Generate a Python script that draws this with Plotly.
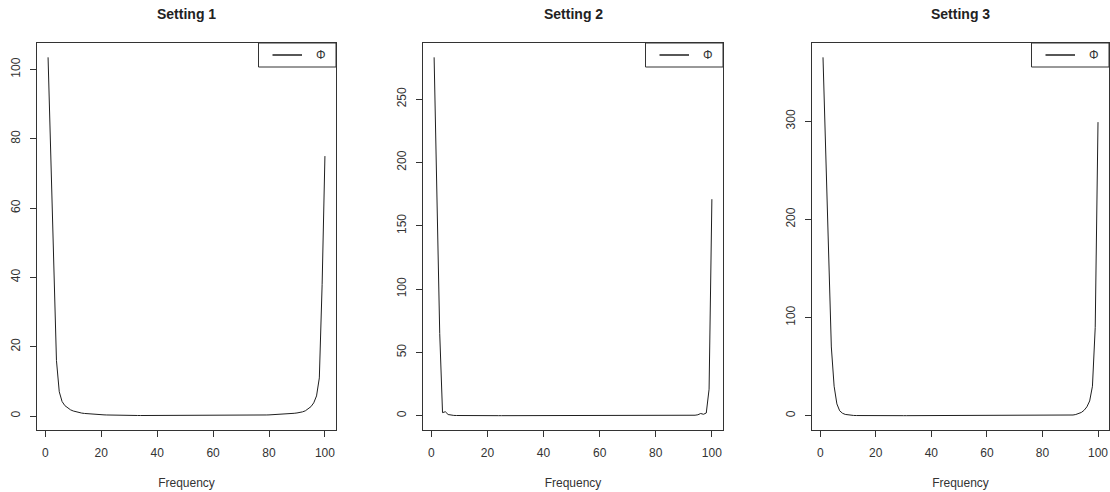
import plotly.graph_objects as go

freq = list(range(1, 101))

phi_setting1 = [
    103.5, 75, 44, 16, 7, 4.2, 3.0, 2.3, 1.8, 1.45,
    1.2, 1.0, 0.85, 0.74, 0.65, 0.57, 0.5, 0.45, 0.4, 0.36,
    0.33, 0.3, 0.27, 0.25, 0.23, 0.21, 0.2, 0.19, 0.18, 0.17,
    0.16, 0.15, 0.15, 0.14, 0.14, 0.13, 0.13, 0.12, 0.12, 0.12,
    0.11, 0.11, 0.11, 0.11, 0.1, 0.1, 0.1, 0.1, 0.1, 0.1,
    0.1, 0.1, 0.1, 0.1, 0.1, 0.1, 0.11, 0.11, 0.11, 0.11,
    0.12, 0.12, 0.12, 0.13, 0.13, 0.14, 0.14, 0.15, 0.16, 0.17,
    0.18, 0.19, 0.2, 0.21, 0.23, 0.24, 0.26, 0.28, 0.3, 0.32,
    0.35, 0.38, 0.41, 0.45, 0.5, 0.55, 0.62, 0.7, 0.78, 0.88,
    1.0, 1.2, 1.5, 2.0, 2.7, 3.8, 5.8, 11, 38, 75,
]

phi_setting2 = [
    283, 171, 65, 2.5, 3.2, 1.0, 0.45, 0.3, 0.22, 0.18,
    0.15, 0.13, 0.12, 0.11, 0.1, 0.1, 0.1, 0.1, 0.1, 0.1,
    0.1, 0.1, 0.1, 0.1, 0.1, 0.1, 0.1, 0.1, 0.1, 0.1,
    0.1, 0.1, 0.1, 0.1, 0.1, 0.1, 0.1, 0.1, 0.1, 0.1,
    0.1, 0.1, 0.1, 0.1, 0.1, 0.1, 0.1, 0.1, 0.1, 0.1,
    0.1, 0.1, 0.1, 0.1, 0.1, 0.1, 0.1, 0.1, 0.1, 0.1,
    0.1, 0.1, 0.1, 0.1, 0.1, 0.1, 0.1, 0.1, 0.1, 0.1,
    0.1, 0.1, 0.1, 0.1, 0.1, 0.1, 0.1, 0.1, 0.1, 0.1,
    0.1, 0.1, 0.1, 0.1, 0.1, 0.11, 0.12, 0.13, 0.15, 0.17,
    0.2, 0.25, 0.32, 0.45, 0.8, 1.8, 1.2, 2.2, 21, 171,
]

phi_setting3 = [
    365, 272, 170, 70, 30, 12, 5.0, 2.5, 1.3, 0.7,
    0.4, 0.25, 0.15, 0.1, 0.08, 0.06, 0.05, 0.04, 0.03, 0.03,
    0.02, 0.02, 0.02, 0.02, 0.02, 0.02, 0.02, 0.02, 0.02, 0.02,
    0.02, 0.02, 0.02, 0.02, 0.02, 0.02, 0.02, 0.02, 0.02, 0.02,
    0.02, 0.02, 0.02, 0.02, 0.02, 0.02, 0.02, 0.02, 0.02, 0.02,
    0.02, 0.02, 0.02, 0.02, 0.02, 0.02, 0.02, 0.02, 0.02, 0.02,
    0.02, 0.02, 0.02, 0.02, 0.02, 0.02, 0.02, 0.02, 0.02, 0.02,
    0.02, 0.02, 0.02, 0.02, 0.02, 0.02, 0.02, 0.02, 0.03, 0.03,
    0.04, 0.04, 0.05, 0.06, 0.07, 0.09, 0.12, 0.16, 0.24, 0.4,
    0.7, 1.2, 2.0, 3.3, 5.5, 9.0, 15, 30, 90, 299,
]

titles = ["Setting 1", "Setting 2", "Setting 3"]
series = [phi_setting1, phi_setting2, phi_setting3]
x_ticks = [0, 20, 40, 60, 80, 100]
y_ticks = [
    [0, 20, 40, 60, 80, 100],
    [0, 50, 100, 150, 200, 250],
    [0, 100, 200, 300],
]
legend_label = "\u03A6"

W, H = 1110, 492
ML, MR, MT, MB = 37, 1, 43, 62
PW = W - ML - MR
PH = H - MT - MB
# box pixel extents (left, right)
boxes = [(37, 336), (423, 723), (812, 1109)]
domains = [[(l - ML) / PW, (r - ML) / PW] for l, r in boxes]

FONT = "Liberation Sans, Arial, Helvetica, sans-serif"
AX = "#333333"
TXT = "#333333"

fig = go.Figure()

for i, (vals, title) in enumerate(zip(series, titles)):
    n = i + 1
    xa = "x" if n == 1 else f"x{n}"
    ya = "y" if n == 1 else f"y{n}"
    fig.add_trace(go.Scatter(
        x=freq, y=vals, mode="lines", name=legend_label,
        line=dict(color="#1f1f1f", width=1),
        xaxis=xa, yaxis=ya, showlegend=False,
    ))
    xmin, xmax = min(freq), max(freq)
    xs = (xmax - xmin) * 0.04
    ymin, ymax = min(vals), max(vals)
    ys = (ymax - ymin) * 0.04
    xkey = "xaxis" if n == 1 else f"xaxis{n}"
    ykey = "yaxis" if n == 1 else f"yaxis{n}"
    common = dict(
        showline=True, mirror=True, linecolor=AX, linewidth=1,
        ticks="outside", ticklen=6, tickwidth=1, tickcolor=AX,
        showgrid=False, zeroline=False,
        tickfont=dict(family=FONT, size=12, color=TXT),
    )
    fig.update_layout({
        xkey: dict(
            domain=domains[i], anchor=ya, range=[xmin - xs, xmax + xs],
            tickmode="array", tickvals=x_ticks, ticktext=[str(t) for t in x_ticks],
            ticklabelstandoff=6,
            title=dict(text="Frequency", font=dict(family=FONT, size=12, color=TXT),
                       standoff=19),
            **common,
        ),
        ykey: dict(
            domain=[0, 1], anchor=xa, range=[ymin - ys, ymax + ys],
            tickmode="array", tickvals=y_ticks[i], ticktext=[str(t) for t in y_ticks[i]],
            tickangle=-90, ticklabelstandoff=5,
            **common,
        ),
    })
    # subplot title
    fig.add_annotation(
        text=f"<b>{title}</b>", xref="paper", yref="paper",
        x=sum(domains[i]) / 2, y=1 + (MT - 14) / PH,
        xanchor="center", yanchor="middle", showarrow=False,
        font=dict(family=FONT, size=14, color="#222222"),
    )
    # legend box (R-style, top-right inside the plot box)
    bw = boxes[i][1] - boxes[i][0]
    def fx(px_from_right):
        return 1 - px_from_right / bw
    def fy(px_from_top):
        return 1 - px_from_top / PH
    xd = f"{xa} domain"
    yd = f"{ya} domain"
    fig.add_shape(type="rect", xref=xd, yref=yd,
                  x0=fx(77.5), x1=1, y0=fy(24), y1=1,
                  line=dict(color=AX, width=1), fillcolor="white", layer="above")
    fig.add_shape(type="line", xref=xd, yref=yd,
                  x0=fx(63.5), x1=fx(34), y0=fy(12), y1=fy(12),
                  line=dict(color="#1f1f1f", width=1.5), layer="above")
    fig.add_annotation(
        text=legend_label, xref=xd, yref=yd, x=fx(15), y=fy(12),
        xanchor="center", yanchor="middle", showarrow=False,
        font=dict(family=FONT, size=12, color=TXT),
    )

fig.update_layout(
    width=W, height=H,
    margin=dict(l=ML, r=MR, t=MT, b=MB, autoexpand=False),
    paper_bgcolor="white", plot_bgcolor="white",
    showlegend=False,
)

fig.write_html(
    "out.html",
    config={"displayModeBar": False},
    post_script="document.body.style.margin='0';document.body.style.overflow='hidden';",
)
